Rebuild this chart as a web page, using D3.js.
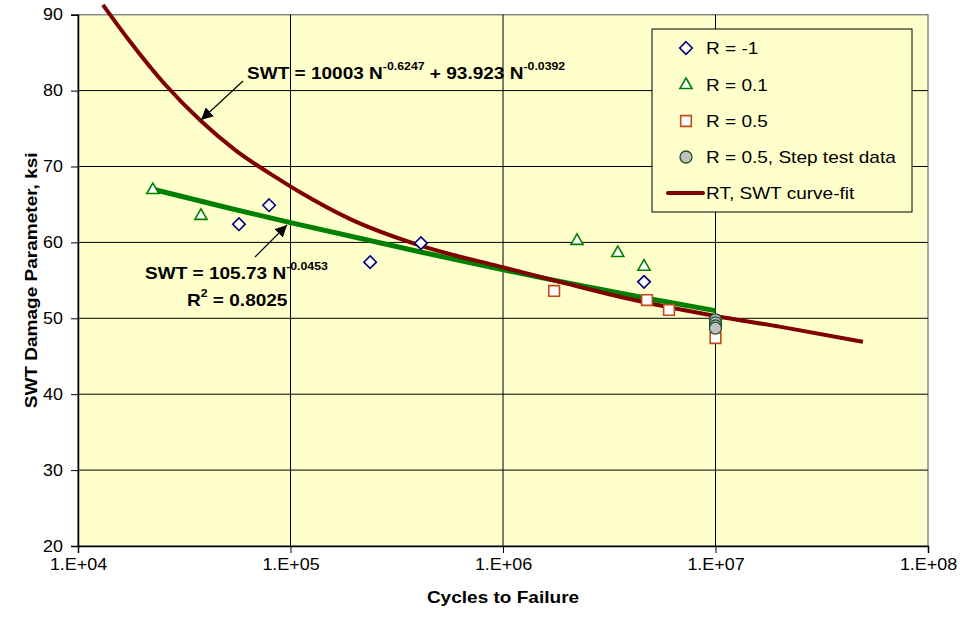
<!DOCTYPE html>
<html>
<head>
<meta charset="utf-8">
<script src="https://cdn.jsdelivr.net/npm/d3@7"></script>
<style>
  body { margin: 0; background: #fff; }
  text { font-family: Arial, "Liberation Sans", sans-serif; }
</style>
</head>
<body>
<div id="chart"></div>
<script>
// values
var rm1N = [5.72e4, 7.93e4, 2.37e5, 4.11e5, 4.61e6];
var rm1SWT = [62.4, 64.9, 57.4, 59.9, 54.8];

var r01N = [2.25e4, 3.79e4, 2.23e6, 3.47e6, 4.61e6];
var r01SWT = [66.9, 63.5, 60.2, 58.6, 56.8];

var r05N = [1.74e6, 4.76e6, 6.04e6, 1e7];
var r05SWT = [53.6, 52.4, 51.1, 47.4];

var stepN = [1e7, 1e7, 1e7, 1e7];
var stepSWT = [49.8, 49.4, 49.0, 48.7];

// RT SWT curve-fit
var fitN = [1.31e4, 1.72e4, 2.57e4, 3.79e4, 5.48e4, 8.73e4, 1.11e5, 1.9e5, 4.06e5, 9.7e5, 1.85e6, 4e6, 1e7, 2e7, 4.94e7];
var fitSWT = [91.3, 86.8, 80.8, 76.0, 72.2, 68.4, 66.6, 63.1, 59.6, 56.8, 54.8, 52.5, 50.3, 48.9, 46.9];

// power law trend line over all points
var trendN = [2.25e4, 5e4, 1e5, 4e5, 1.9e6, 4.6e6, 1e7];
var trendSWT = [67.0, 64.6, 62.6, 58.8, 54.8, 52.7, 51.0];

var xTicks = [1e4, 1e5, 1e6, 1e7, 1e8];
var yTicks = [20, 30, 40, 50, 60, 70, 80, 90];
var yMinor = [25, 35, 45, 55, 65, 75, 85];

var legendLabels = ['R = -1', 'R = 0.1', 'R = 0.5', 'R = 0.5, Step test data', 'RT, SWT curve-fit'];

var WIDTH = 960, HEIGHT = 621;
var margin = {left: 78, right: 32, top: 14.7, bottom: 75};
var SX = 1.12; // text in the reference is a little wide

var svg = d3.select('#chart').append('svg')
  .attr('width', WIDTH)
  .attr('height', HEIGHT);

var x = d3.scaleLog().domain([1e4, 1e8]).range([margin.left, WIDTH - margin.right]);
var y = d3.scaleLinear().domain([20, 90]).range([HEIGHT - margin.bottom, margin.top]);

// plot area
svg.append('rect')
  .attr('x', x(1e4)).attr('y', y(90))
  .attr('width', x(1e8) - x(1e4)).attr('height', y(20) - y(90))
  .attr('fill', '#ffffcc')
  .attr('stroke', '#888')
  .attr('stroke-width', 1.5);

// grid
svg.append('g').selectAll('line').data(yTicks.slice(1, -1)).enter().append('line')
  .attr('x1', x(1e4)).attr('x2', x(1e8))
  .attr('y1', function(d) { return y(d); }).attr('y2', function(d) { return y(d); })
  .attr('stroke', '#000').attr('stroke-width', 1);
svg.append('g').selectAll('line').data(xTicks.slice(1, -1)).enter().append('line')
  .attr('x1', function(d) { return x(d); }).attr('x2', function(d) { return x(d); })
  .attr('y1', y(90)).attr('y2', y(20))
  .attr('stroke', '#000').attr('stroke-width', 1);

// axes
var minorX = [];
for (var e = 4; e < 8; e++) {
  for (var m = 2; m <= 9; m++) minorX.push(m * Math.pow(10, e));
}

var fmtE = function(d) {
  var p = Math.round(Math.log10(d));
  return '1.E+' + (p < 10 ? '0' : '') + p;
};

var gx = svg.append('g').attr('transform', 'translate(0,' + y(20) + ')');
gx.call(d3.axisBottom(x).tickValues(minorX).tickSize(5).tickFormat(''));
gx.call(d3.axisBottom(x).tickValues(xTicks).tickSize(7).tickFormat(fmtE).tickPadding(6));

var gy = svg.append('g').attr('transform', 'translate(' + x(1e4) + ',0)');
gy.call(d3.axisLeft(y).tickValues(yMinor).tickSize(5).tickFormat(''));
gy.call(d3.axisLeft(y).tickValues(yTicks).tickSize(7).tickPadding(6));

svg.selectAll('.domain').attr('stroke', '#000').attr('stroke-width', 1.5);
svg.selectAll('.tick line').attr('stroke', '#000');
svg.selectAll('.tick text')
  .attr('font-size', 16)
  .attr('font-family', 'Arial, "Liberation Sans", sans-serif')
  .attr('fill', '#000')
  .attr('transform', 'scale(' + SX + ',1)');
gy.selectAll('.tick text').attr('x', -15 / SX);

// axis titles
svg.append('text')
  .attr('transform', 'translate(' + ((x(1e4) + x(1e8)) / 2) + ',603) scale(' + SX + ',1)')
  .attr('text-anchor', 'middle')
  .attr('font-size', 17).attr('font-weight', 'bold')
  .text('Cycles to Failure');

svg.append('text')
  .attr('transform', 'translate(37,' + ((y(20) + y(90)) / 2) + ') rotate(-90) scale(' + SX + ',1)')
  .attr('text-anchor', 'middle')
  .attr('font-size', 17).attr('font-weight', 'bold')
  .text('SWT Damage Parameter, ksi');

// lines
var line = d3.line()
  .x(function(d) { return x(d[0]); })
  .y(function(d) { return y(d[1]); })
  .curve(d3.curveMonotoneX);

svg.append('path')
  .datum(trendN.map(function(n, i) { return [n, trendSWT[i]]; }))
  .attr('d', line)
  .attr('fill', 'none').attr('stroke', '#008000').attr('stroke-width', 5);

svg.append('path')
  .datum(fitN.map(function(n, i) { return [n, fitSWT[i]]; }))
  .attr('d', line)
  .attr('fill', 'none').attr('stroke', '#800000').attr('stroke-width', 4);

// markers
var symDiamond = d3.symbol().type(d3.symbolDiamond2).size(100);
var symTriangle = d3.symbol().type(d3.symbolTriangle2).size(105);
var symSquare = d3.symbol().type(d3.symbolSquare2).size(145);

var styles = [
  {N: rm1N, V: rm1SWT, sym: symDiamond, stroke: '#000080', fill: '#fff'},
  {N: r01N, V: r01SWT, sym: symTriangle, stroke: '#008000', fill: '#fff'},
  {N: r05N, V: r05SWT, sym: symSquare, stroke: '#bf4a1a', fill: '#fff'}
];

styles.forEach(function(s) {
  svg.append('g').selectAll('path').data(s.N).enter().append('path')
    .attr('d', s.sym)
    .attr('transform', function(d, i) { return 'translate(' + x(d) + ',' + y(s.V[i]) + ')'; })
    .attr('fill', s.fill).attr('stroke', s.stroke).attr('stroke-width', 1.6);
});

svg.append('g').selectAll('circle').data(stepN).enter().append('circle')
  .attr('cx', function(d) { return x(d); })
  .attr('cy', function(d, i) { return y(stepSWT[i]); })
  .attr('r', 6)
  .attr('fill', '#c0c0c0').attr('stroke', '#1f4f2a').attr('stroke-width', 1.3);

// annotations
svg.append('defs').append('marker')
  .attr('id', 'arrow')
  .attr('viewBox', '0 0 10 10')
  .attr('refX', 10).attr('refY', 5)
  .attr('markerWidth', 12).attr('markerHeight', 12)
  .attr('markerUnits', 'userSpaceOnUse')
  .attr('orient', 'auto')
  .append('path').attr('d', 'M0,0 L10,5 L0,10 Z').attr('fill', '#000');

svg.append('line')
  .attr('x1', 243).attr('y1', 81).attr('x2', 201).attr('y2', 120)
  .attr('stroke', '#000').attr('stroke-width', 1.2).attr('marker-end', 'url(#arrow)');
svg.append('line')
  .attr('x1', 255).attr('y1', 257).attr('x2', 287).attr('y2', 225)
  .attr('stroke', '#000').attr('stroke-width', 1.2).attr('marker-end', 'url(#arrow)');

function label(tx, ty, parts) {
  var t = svg.append('text')
    .attr('transform', 'translate(' + tx + ',' + ty + ') scale(' + SX + ',1)')
    .attr('font-size', 17).attr('font-weight', 'bold');
  var up = false;
  parts.forEach(function(p) {
    var sup = p.charAt(0) === '^';
    var ts = t.append('tspan').text(sup ? p.slice(1) : p);
    if (sup && !up) { ts.attr('dy', -9).attr('font-size', 11); up = true; }
    else if (sup) { ts.attr('font-size', 11); }
    else if (up) { ts.attr('dy', 9); up = false; }
  });
}

label(247, 79, ['SWT = 10003 N', '^-0.6247', ' + 93.923 N', '^-0.0392']);
label(145, 279, ['SWT = 105.73 N', '^-0.0453']);
label(187, 306, ['R', '^2', ' = 0.8025']);

// legend
var lg = svg.append('g');
lg.append('rect')
  .attr('x', 652).attr('y', 29).attr('width', 260).attr('height', 183)
  .attr('fill', '#ffffcc').attr('stroke', '#000').attr('stroke-width', 1);

var rowY = [48, 85, 121, 157, 193];
legendLabels.forEach(function(txt, i) {
  var cy = rowY[i];
  if (i < 3) {
    lg.append('path')
      .attr('d', styles[i].sym)
      .attr('transform', 'translate(686,' + cy + ')')
      .attr('fill', '#fff').attr('stroke', styles[i].stroke).attr('stroke-width', 1.6);
  } else if (i === 3) {
    lg.append('circle').attr('cx', 686).attr('cy', cy).attr('r', 6)
      .attr('fill', '#c0c0c0').attr('stroke', '#1f4f2a').attr('stroke-width', 1.3);
  } else {
    lg.append('line').attr('x1', 668).attr('x2', 703).attr('y1', cy).attr('y2', cy)
      .attr('stroke', '#800000').attr('stroke-width', 4).attr('stroke-linecap', 'round');
  }
  lg.append('text')
    .attr('transform', 'translate(706,' + (cy + 6) + ') scale(' + SX + ',1)')
    .attr('font-size', 17)
    .text(txt);
});
</script>
</body>
</html>
